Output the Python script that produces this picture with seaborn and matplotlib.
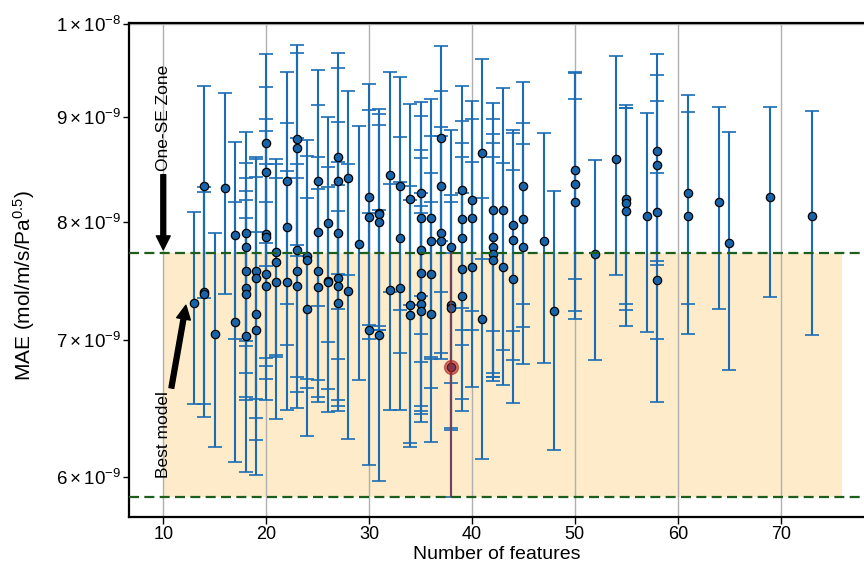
import numpy as np
import pandas as pd
import matplotlib
matplotlib.use('Agg')
import matplotlib.pyplot as plt
import seaborn as sns

SCALE = 1e-9

# number of features of every evaluated model
n_features = [13,
              14, 14, 14,
              15,
              16,
              17, 17,
              18, 18, 18, 18, 18, 18,
              19, 19, 19, 19,
              20, 20, 20, 20, 20, 20,
              21, 21, 21,
              22, 22, 22,
              23, 23, 23, 23, 23,
              24, 24, 24,
              25, 25, 25, 25,
              26, 26, 26,
              27, 27, 27, 27, 27, 27,
              28, 28,
              29,
              30, 30, 30,
              31, 31, 31, 31,
              32, 32,
              33, 33, 33,
              34, 34, 34,
              35, 35, 35, 35, 35, 35, 35,
              36, 36, 36, 36,
              37, 37, 37, 37,
              38, 38, 38, 38,
              39, 39, 39, 39, 39,
              40, 40, 40,
              41, 41,
              42, 42, 42, 42, 42,
              43, 43,
              44, 44, 44,
              45, 45, 45,
              47,
              48,
              50, 50, 50,
              52,
              54,
              55, 55, 55,
              57,
              58, 58, 58, 58,
              61, 61,
              64,
              65,
              69,
              73]

# mean MAE (x1e-9)
mae = [7.30,
       8.33, 7.39, 7.37,
       7.05,
       8.31,
       7.88, 7.14,
       7.90, 7.77, 7.57, 7.42, 7.37, 7.03,
       7.57, 7.51, 7.21, 7.08,
       8.74, 8.46, 7.89, 7.86, 7.54, 7.44,
       7.73, 7.64, 7.47,
       8.38, 7.95, 7.47,
       8.78, 8.69, 7.75, 7.57, 7.44,
       7.70, 7.66, 7.25,
       8.38, 7.91, 7.57, 7.43,
       7.99, 7.48, 7.47,
       8.61, 8.38, 7.90, 7.51, 7.44, 7.30,
       8.40, 7.40,
       7.80,
       8.23, 8.04, 7.08,
       8.08, 8.07, 8.00, 7.04,
       8.43, 7.41,
       8.33, 7.85, 7.42,
       8.21, 7.28, 7.20,
       8.26, 8.03, 7.75, 7.55, 7.36, 7.29, 7.23,
       8.03, 7.83, 7.54, 7.21,
       8.79, 8.33, 7.90, 7.83,
       7.77, 7.28, 7.26, 6.79,
       8.29, 8.02, 7.85, 7.58, 7.36,
       8.20, 8.03, 7.60,
       8.64, 7.17,
       8.11, 7.86, 7.77, 7.71, 7.66,
       8.11, 7.60,
       7.97, 7.84, 7.50,
       8.33, 8.02, 7.77,
       7.83,
       7.23,
       8.48, 8.35, 8.18,
       7.71,
       8.59,
       8.21, 8.17, 8.10,
       8.05,
       8.66, 8.53, 8.09, 7.49,
       8.26, 8.05,
       8.18,
       7.81,
       8.23,
       8.05]

# standard error of MAE (x1e-9)
mae_se = [0.79,
          0.99, 0.88, 0.95,
          0.85,
          0.94,
          0.87, 1.04,
          0.95, 0.78, 0.83, 0.86, 0.83, 1.00,
          1.02, 1.10, 1.20, 0.83,
          0.93, 0.85, 1.09, 1.00, 1.00, 0.74,
          0.86, 0.76, 1.07,
          1.09, 0.99, 1.00,
          0.99, 0.99, 1.04, 0.97, 0.96,
          1.07, 0.96, 0.97,
          1.11, 1.22, 1.04, 0.87,
          1.01, 1.03, 0.85,
          1.07, 1.13, 1.05, 1.05, 0.90, 0.80,
          0.87, 1.14,
          1.11,
          1.11, 1.03, 1.00,
          1.00, 0.96, 0.92, 1.07,
          1.04, 0.94,
          1.09, 0.95, 0.95,
          0.93, 1.05, 1.00,
          0.90, 0.98, 0.92, 1.05, 0.90, 0.85, 0.85,
          1.16, 0.98, 0.91, 0.97,
          0.96, 0.94, 1.00, 0.98,
          1.10, 0.96, 0.92, 0.93,
          1.03, 0.94, 0.89, 1.03, 0.90,
          0.97, 0.95, 0.96,
          0.97, 1.05,
          1.04, 1.12, 1.06, 1.03, 0.95,
          1.19, 0.95,
          0.90, 1.00, 0.98,
          1.04, 0.92, 0.96,
          1.01,
          1.05,
          0.98, 1.12, 1.01,
          0.87,
          1.06,
          0.92, 0.93, 0.99,
          0.99,
          1.01, 0.91, 1.08, 0.96,
          0.97, 1.00,
          0.93,
          1.04,
          0.88,
          1.01]

zone_x = [10, 76]
ytick_vals = [6e-9, 7e-9, 8e-9, 9e-9, 1e-8]
ytick_text = [r'$\mathdefault{6\times10^{-9}}$', r'$\mathdefault{7\times10^{-9}}$',
              r'$\mathdefault{8\times10^{-9}}$', r'$\mathdefault{9\times10^{-9}}$',
              r'$\mathdefault{1\times10^{-8}}$']

df = pd.DataFrame({'n_features': n_features,
                   'mae': np.array(mae) * SCALE,
                   'se': np.array(mae_se) * SCALE})
best = df.loc[df['mae'].idxmin()]
upper = best['mae'] + best['se']
lower = best['mae'] - best['se']

sns.set_style("ticks")
plt.rcParams['font.family'] = ['Liberation Sans', 'DejaVu Sans']
plt.rcParams['mathtext.fontset'] = 'custom'
plt.rcParams['mathtext.rm'] = 'Liberation Sans'
plt.rcParams['mathtext.it'] = 'Liberation Sans:italic'
plt.rcParams['text.color'] = 'black'
plt.rcParams['axes.labelcolor'] = 'black'

fig = plt.figure(figsize=(8.64, 5.68), dpi=100)
ax = fig.add_axes([129 / 864, 1 - 517.3 / 568, 735 / 864, 494.3 / 568])

# one-SE zone
ax.fill_between(zone_x, lower, upper, color='#fdebc9', lw=0, zorder=0)
ax.axhline(upper, color='#1c5e1c', lw=1.6, ls=(0, (4.5, 2.4)), zorder=4)
ax.axhline(lower, color='#1c5e1c', lw=1.6, ls=(0, (4.5, 2.4)), zorder=4)

ax.errorbar(df['n_features'], df['mae'], yerr=df['se'], fmt='none',
            ecolor='#1a6db5', elinewidth=1.5, capsize=5, capthick=1.2, zorder=2)
sns.scatterplot(data=df, x='n_features', y='mae', ax=ax, s=36,
                color='#1764aa', edgecolor='black', linewidth=0.9,
                legend=False, zorder=3)

# best model highlight
ax.errorbar(best['n_features'], best['mae'], yerr=best['se'], fmt='o',
            color='firebrick', alpha=0.6, markersize=10, elinewidth=1.5,
            capsize=0, zorder=5)

ax.set_yscale('log')
ax.set_xlim(6.67, 78.1)
ax.set_ylim(5.73e-9, 1.0011e-8)
ax.yaxis.set_minor_locator(matplotlib.ticker.NullLocator())
ax.set_yticks(ytick_vals)
ax.set_yticklabels(ytick_text)
ax.set_xticks([10, 20, 30, 40, 50, 60, 70])

ax.xaxis.grid(True, color='#b0b0b0', lw=1.0)
ax.axhline(1e-8, color='#b0b0b0', lw=1.0, zorder=1)

for side in ['left', 'bottom', 'top']:
    ax.spines[side].set_linewidth(1.6)
    ax.spines[side].set_color('black')
ax.spines['right'].set_visible(False)

ax.tick_params(axis='x', labelsize=13, length=5, width=1, pad=1.5, colors='black')
ax.tick_params(axis='y', labelsize=13.5, length=4.5, width=1, pad=1, colors='black')

ax.set_xlabel('Number of features', fontsize=14, labelpad=2)
ax.set_ylabel('MAE (mol/m/s/Pa$^{0.5}$)', fontsize=15)
ax.yaxis.set_label_coords(-0.125, 0.47)

arrow = dict(facecolor='black', edgecolor='black', width=3.5, headwidth=10,
             headlength=10, shrink=0)
ax.annotate('One-SE Zone', xy=(10, 7.75e-9), xytext=(10, 8.99e-9),
            rotation=90, ha='center', va='center', fontsize=12.5,
            arrowprops=arrow)
ax.annotate('Best model', xy=(12.2, 7.28e-9), xytext=(10, 6.29e-9),
            rotation=90, ha='center', va='center', fontsize=12.5,
            arrowprops=arrow)

fig.savefig('out.png', dpi=100)
